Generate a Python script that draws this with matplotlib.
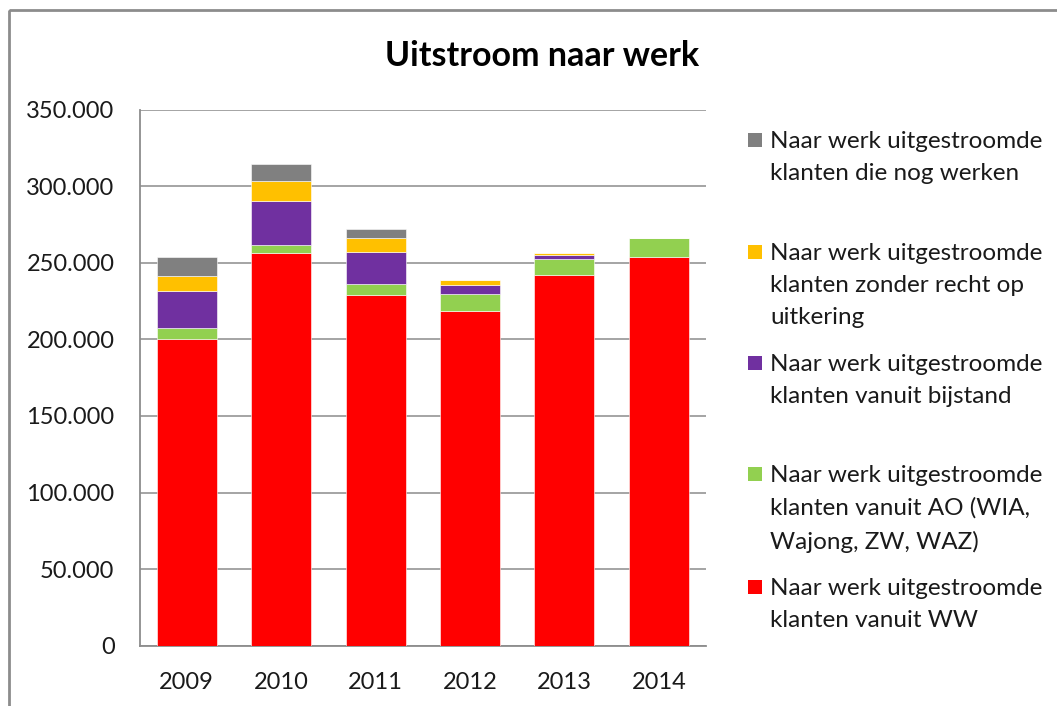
"""
plot.py
=======
Stacked bar chart: Uitstroom naar werk (2009-2014).
"""

import numpy as np
import matplotlib
matplotlib.use("Agg")
import matplotlib.pyplot as plt
from matplotlib.patches import Rectangle
from matplotlib.ticker import FuncFormatter, MultipleLocator

years = ["2009", "2010", "2011", "2012", "2013", "2014"]

# Series values, bottom to top of each stack
ww = [200000, 256100, 228700, 218300, 242000, 253700]
ao = [7200, 5600, 7600, 11100, 10600, 12400]
bijstand = [24100, 28600, 20700, 5800, 2600, 0]
zonder_recht = [10000, 13200, 9100, 3500, 900, 0]
nog_werken = [12400, 10700, 5900, 0, 0, 0]

labels = [
    "Naar werk uitgestroomde\nklanten vanuit WW",
    "Naar werk uitgestroomde\nklanten vanuit AO (WIA,\nWajong, ZW, WAZ)",
    "Naar werk uitgestroomde\nklanten vanuit bijstand",
    "Naar werk uitgestroomde\nklanten zonder recht op\nuitkering",
    "Naar werk uitgestroomde\nklanten die nog werken",
]
colors = ["#FF0000", "#92D050", "#7030A0", "#FFC000", "#808080"]

FONT = "Lato"
W, H = 1057, 706


def px(x, y):
    """Pixel position (top-left origin) -> figure fraction."""
    return x / W, 1 - y / H


fig = plt.figure(figsize=(W / 100, H / 100), dpi=100)

# 1. Outer chart frame (cut off on right and bottom)
fig.patches.append(Rectangle(px(9, 10), 2, -1, transform=fig.transFigure,
                             fill=False, edgecolor="#8c8c8c", linewidth=2))

# 2. Plot area
left, top, right, bottom = 139.5, 109.5, 706, 645.7
ax = fig.add_axes([left / W, 1 - bottom / H, (right - left) / W, (bottom - top) / H])

series = [ww, ao, bijstand, zonder_recht, nog_werken]
x = np.arange(len(years))
base = np.zeros(len(years))
for vals, col in zip(series, colors):
    vals = np.array(vals, dtype=float)
    ax.bar(x, vals, bottom=base, width=0.635, color=col,
           edgecolor="white", linewidth=0.4, zorder=3)
    base += vals

ax.set_xlim(-0.5, len(years) - 0.5)
ax.set_ylim(0, 350000)
ax.yaxis.set_major_locator(MultipleLocator(50000))
ax.yaxis.set_major_formatter(FuncFormatter(lambda v, _: f"{v:,.0f}".replace(",", ".")))
ax.set_xticks(x)
ax.set_xticklabels(years)

ax.grid(axis="y", color="#8c8c8c", linewidth=1.1, zorder=0)
for s in ["top", "right"]:
    ax.spines[s].set_visible(False)
for s in ["left", "bottom"]:
    ax.spines[s].set_color("#8c8c8c")
    ax.spines[s].set_linewidth(1.3)
ax.tick_params(length=0, labelsize=17, colors="#1a1a1a")
ax.tick_params(axis="y", pad=18)
ax.tick_params(axis="x", pad=19)
for t in ax.get_xticklabels() + ax.get_yticklabels():
    t.set_fontfamily(FONT)

# 3. Title
tx, ty = px(542, 56)
fig.text(tx, ty, "Uitstroom naar werk", ha="center", va="center",
         fontsize=24.5, fontweight="bold", family=FONT, color="black")

# 4. Legend, drawn by hand (top entry first)
entry_y = [140, 252, 363, 474, 587]
for i, (lab, col) in enumerate(zip(labels[::-1], colors[::-1])):
    y = entry_y[i]
    sx, sy = px(748, y + 7)
    fig.patches.append(Rectangle((sx, sy), 14 / W, 14 / H, transform=fig.transFigure,
                                 facecolor=col, edgecolor="none"))
    lx, ly = px(770, y - 9)
    fig.text(lx, ly, lab, ha="left", va="top", fontsize=17.5, family=FONT,
             color="#1a1a1a", linespacing=1.66)

fig.savefig("out.png", dpi=100)
